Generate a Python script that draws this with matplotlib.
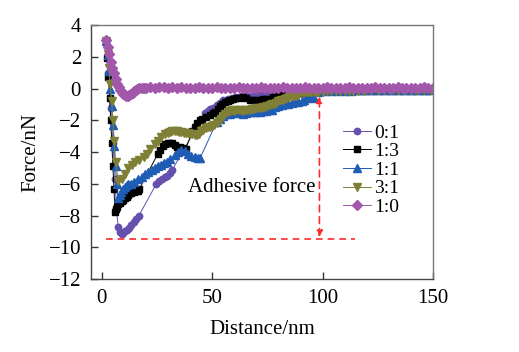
import matplotlib
matplotlib.use("Agg")
import matplotlib.pyplot as plt
import numpy as np

plt.rcParams['font.family'] = ['Liberation Serif', 'DejaVu Serif']
plt.rcParams['mathtext.fontset'] = 'stix'

# ---------------- data ----------------
labels = ["0:1", "1:3", "1:1", "3:1", "1:0"]

x01 = [2, 3, 4, 5, 6, 6.6, 7.4, 8.2, 9, 9.8, 10.6, 11.5, 12.5, 13.4, 14.5, 15.6, 16.8,
       24.7, 26, 27.4, 28.5, 29.4, 30.7, 32,
       46.6, 48, 49, 50.5, 52, 53.5, 55, 57, 59, 61, 63, 65, 67, 69, 71, 73, 75, 77, 79,
       81, 83, 85, 87, 89, 91, 93, 95, 98, 101, 104, 107, 110, 113, 116, 119, 122, 125,
       128, 131, 134, 137, 140, 143, 146, 149]
y01 = [3.0, 1.0, -1.2, -3.4, -5.7, -7.6, -8.7, -9.05, -9.15, -9.1, -9.0, -8.9, -8.75, -8.6,
       -8.4, -8.2, -8.0,
       -6.0, -5.85, -5.7, -5.6, -5.5, -5.3, -5.1,
       -1.55, -1.4, -1.3, -1.2, -1.05, -0.9, -0.75, -0.65, -0.6, -0.55, -0.5, -0.5, -0.48,
       -0.45, -0.42, -0.4, -0.38, -0.35, -0.3, -0.27, -0.25, -0.22, -0.2, -0.18, -0.15,
       -0.12, -0.1, -0.08, -0.06, -0.05, -0.05, -0.04, -0.05, -0.04, -0.03, -0.04, -0.03,
       -0.03, -0.02, -0.03, -0.02, -0.02, -0.03, -0.02, -0.02]

x13 = [2, 2.5, 3, 3.5, 4, 4.5, 5, 5.5, 5.9, 6.5, 7, 7.5, 8.1, 9, 9.7, 10.4, 11.2, 12, 12.7,
       13.4, 14.5, 15.4, 16.3, 16.9,
       25.4, 26.5, 27.6, 28.8, 30, 30.8, 32, 33, 34.2, 35.3, 36.7, 38,
       41, 42.2, 43.3, 44.3, 45.5, 47.4, 49, 50.5, 51.5, 52.5, 53.4, 54.5, 56, 57, 58, 59.5,
       61, 62.4, 64, 65.5, 67, 68.5, 70, 71.5, 73, 74.5, 76, 77.4, 78.8, 80.5, 82, 83.5, 85,
       86.5, 88, 89.5, 91, 92.7, 94.5, 96, 98, 100, 103, 106, 109, 112, 115, 118, 121, 124,
       127, 130, 133, 136, 139, 142, 145, 148]
y13 = [3.0, 1.9, 0.7, -0.6, -2.0, -3.4, -4.9, -6.3, -7.75, -7.6, -7.45, -7.3, -7.2, -7.05,
       -7.0, -6.9, -6.8, -6.7, -6.6, -6.55, -6.5, -6.45, -6.45, -6.35,
       -4.1, -3.85, -3.6, -3.5, -3.4, -3.4, -3.45, -3.55, -3.65, -3.7, -3.75, -3.8,
       -2.7, -2.45, -2.2, -2.0, -1.9, -1.8, -1.65, -1.55, -1.45, -1.3, -1.1, -0.95, -0.85,
       -0.78, -0.74, -0.65, -0.6, -0.62, -0.55, -0.6, -0.7, -0.72, -0.74, -0.7, -0.68,
       -0.65, -0.63, -0.52, -0.45, -0.42, -0.35, -0.28, -0.25, -0.25, -0.26, -0.28, -0.28,
       -0.3, -0.25, -0.2, -0.18, -0.15, -0.16, -0.15, -0.17, -0.15, -0.16, -0.14, -0.15,
       -0.16, -0.14, -0.15, -0.15, -0.14, -0.15, -0.14, -0.15, -0.14]

x11 = [2, 2.6, 3.2, 3.8, 4.4, 5, 5.6, 6.2, 6.7, 7.2, 8, 8.8, 9.5, 10.5, 11.2, 11.8, 13,
       14.5, 16.3, 18, 19.5, 20.8, 22.5, 24, 25.4, 27, 28.2, 29.3, 31, 33, 34.5, 36, 37.5,
       39, 40.5, 42, 43.5, 44.5,
       52, 53.5, 55, 56.5, 58, 59.5, 61, 62.5, 64, 65.5, 67, 68.5, 70, 71.5, 73, 74.5, 76,
       77.3, 78.5, 80, 81.5, 83, 84.5, 86, 87.5, 89, 90.5, 91.8, 93, 94.5, 96,
       98, 101, 104, 107, 110, 113, 116, 119, 122, 125, 128, 131, 134, 137, 140, 143,
       146, 149]
y11 = [3.0, 2.1, 1.1, 0.0, -1.1, -2.3, -3.6, -4.9, -6.0, -6.9, -6.7, -6.5, -6.35, -6.2,
       -6.1, -6.0, -6.0, -5.9, -5.7, -5.55, -5.4, -5.25, -5.15, -5.0, -4.9, -4.8, -4.7,
       -4.6, -4.45, -4.2, -4.0, -3.9, -3.95, -4.1, -4.25, -4.3, -4.35, -4.4,
       -2.1, -1.9, -1.7, -1.62, -1.58, -1.55, -1.5, -1.55, -1.58, -1.52, -1.5, -1.48,
       -1.47, -1.45, -1.42, -1.4, -1.38, -1.35, -1.15, -1.1, -1.05, -1.0, -0.95, -0.9,
       -0.87, -0.84, -0.8, -0.72, -0.62, -0.56, -0.6,
       -0.2, -0.17, -0.15, -0.14, -0.13, -0.13, -0.12, -0.12, -0.11, -0.12, -0.11, -0.1,
       -0.11, -0.1, -0.1, -0.1, -0.1, -0.1]

x31 = [2, 2.6, 3.2, 3.8, 4.4, 5, 5.6, 6.2, 7.5, 9, 10.5, 12, 13.5, 15, 17, 19, 20.5, 22,
       24, 25.5, 27, 28.5, 30, 31, 32, 33, 34, 35, 36, 37, 38, 39, 40, 41, 42, 43, 44, 45,
       46, 47, 48, 49, 50, 51, 52, 53, 54, 55, 56, 57, 58, 59, 60, 61, 62, 63, 64, 65, 66,
       67, 68, 69, 70, 71, 72, 73, 74, 75, 76, 77, 78, 79, 80, 81, 82, 83, 84, 85, 86, 87,
       88, 89, 90, 91, 92, 93, 94, 95, 96, 97, 98, 100, 102, 104, 106, 108, 110, 112, 114,
       116, 119, 122, 125, 128, 131, 134, 137, 140, 143, 146, 149]
y31 = [3.0, 2.2, 1.3, 0.3, -0.8, -2.0, -3.3, -4.6, -5.85, -5.7, -5.4, -5.0, -4.8, -4.65,
       -4.5, -4.3, -4.1, -3.8, -3.5, -3.3, -3.05, -2.85, -2.8, -2.72, -2.68, -2.7, -2.7,
       -2.72, -2.75, -2.78, -2.8, -2.83, -2.85, -2.88, -2.9, -2.9, -2.85, -2.7, -2.6,
       -2.5, -2.45, -2.4, -2.35, -2.3, -2.2, -2.05, -1.9, -1.75, -1.6, -1.48, -1.4, -1.38,
       -1.4, -1.36, -1.35, -1.38, -1.4, -1.36, -1.35, -1.33, -1.3, -1.26, -1.22, -1.2,
       -1.2, -1.18, -1.15, -1.1, -1.02, -0.98, -0.95, -0.88, -0.8, -0.75, -0.7, -0.65,
       -0.6, -0.55, -0.5, -0.48, -0.45, -0.38, -0.3, -0.27, -0.25, -0.24, -0.25, -0.25,
       -0.24, -0.23, -0.2, -0.2, -0.18, -0.17, -0.16, -0.15, -0.15, -0.14, -0.14, -0.13,
       -0.13, -0.12, -0.12, -0.12, -0.11, -0.11, -0.1, -0.1, -0.1, -0.1, -0.1]

x10 = [2, 2.7, 3.4, 4.1, 4.8, 5.5, 6.2, 6.9, 7.6, 8.3, 9, 9.7, 10.4, 11.1, 11.8, 12.5,
       13.2, 13.9, 14.6, 15.3, 16, 17, 18, 19, 20, 22, 24, 26, 28, 30, 32, 34, 36, 38, 40,
       42, 44, 46, 48, 50, 52, 54, 56, 58, 60, 62, 64, 66, 68, 70, 72, 74, 76, 78, 80, 82,
       84, 86, 88, 90, 92, 94, 96, 98, 100, 102, 104, 106, 108, 110, 112, 114, 116, 118,
       120, 122, 124, 126, 128, 130, 132, 134, 136, 138, 140, 142, 144, 146, 148, 150]
y10 = [3.05, 2.6, 2.15, 1.7, 1.3, 0.95, 0.6, 0.3, 0.1, -0.08, -0.22, -0.33, -0.41, -0.45,
       -0.46, -0.42, -0.35, -0.27, -0.18, -0.1, -0.04, 0.01, 0.04, 0.05, 0.06, 0.07, 0.06,
       0.07, 0.08, 0.06, 0.07, 0.06, 0.07, 0.06, 0.05, 0.06, 0.07, 0.06, 0.05, 0.06, 0.07,
       0.06, 0.06, 0.05, 0.06, 0.07, 0.06, 0.05, 0.06, 0.06, 0.07, 0.06, 0.05, 0.06, 0.06,
       0.07, 0.06, 0.05, 0.06, 0.06, 0.07, 0.06, 0.06, 0.05, 0.06, 0.07, 0.06, 0.06, 0.05,
       0.06, 0.07, 0.06, 0.06, 0.05, 0.06, 0.06, 0.07, 0.06, 0.05, 0.06, 0.06, 0.07, 0.06,
       0.06, 0.05, 0.06, 0.06, 0.07, 0.06, 0.06]

series = [(x01, y01), (x13, y13), (x11, y11), (x31, y31), (x10, y10)]
colors = ['#6650ad', '#000000', '#1f5cb4', '#7f7f35', '#a257aa']
markers = ['o', 's', '^', 'v', 'D']
msizes = [4.6, 4.6, 5.4, 5.4, 5.0]

xticks = [0, 50, 100, 150]
yticks = [4, 2, 0, -2, -4, -6, -8, -10, -12]

# annotation geometry (data units)
adh_y = -9.45
adh_x0, adh_x1 = 2, 114.5
arrow_x, arrow_top = 98.6, -0.5

# ---------------- figure ----------------
fig = plt.figure(figsize=(5.19, 3.52), dpi=100)
ax = fig.add_axes([0.175, 0.207, 0.659, 0.722])

for (xs, ys), c, m, ms, lab in zip(series, colors, markers, msizes, labels):
    ax.plot(xs, ys, color=c, lw=0.7, marker=m, ms=ms, mec=c, mfc=c, label=lab)

red = '#ff2a2a'
ax.plot([adh_x0, adh_x1], [adh_y, adh_y], color=red, lw=1.2, ls=(0, (4, 3)))
ax.annotate('', xy=(arrow_x, arrow_top), xytext=(arrow_x, adh_y + 0.1),
            arrowprops=dict(arrowstyle='<|-|>', color=red, lw=1.2, ls=(0, (4, 3)),
                            mutation_scale=9, shrinkA=0, shrinkB=0))
ax.text(39, -6.2, 'Adhesive force', fontsize=15, va='center', ha='left')

ax.set_xlim(-5, 150)
ax.set_ylim(-12, 4)
ax.set_xticks(xticks)
ax.set_yticks(yticks)
ax.set_yticklabels([str(t).replace('-', '\u2212') for t in yticks])
ax.tick_params(direction='in', length=5, width=1, labelsize=15, color='#333333')
ax.tick_params(axis='y', pad=7)
ax.tick_params(axis='x', pad=7)
for s in ax.spines.values():
    s.set_color('#444444')
    s.set_linewidth(1.0)
ax.spines['right'].set_color('#777777')
ax.spines['top'].set_color('#777777')

ax.set_xlabel('Distance/nm', fontsize=15, labelpad=9)
ax.set_ylabel('Force/nN', fontsize=15, labelpad=6)

leg = ax.legend(loc='upper left', bbox_to_anchor=(343 / 519, 1 - 124 / 352),
                bbox_transform=fig.transFigure, frameon=False, fontsize=14,
                handlelength=1.45, handletextpad=0.15, labelspacing=0.05,
                borderpad=0, borderaxespad=0)

fig.savefig('out.png', dpi=100)
